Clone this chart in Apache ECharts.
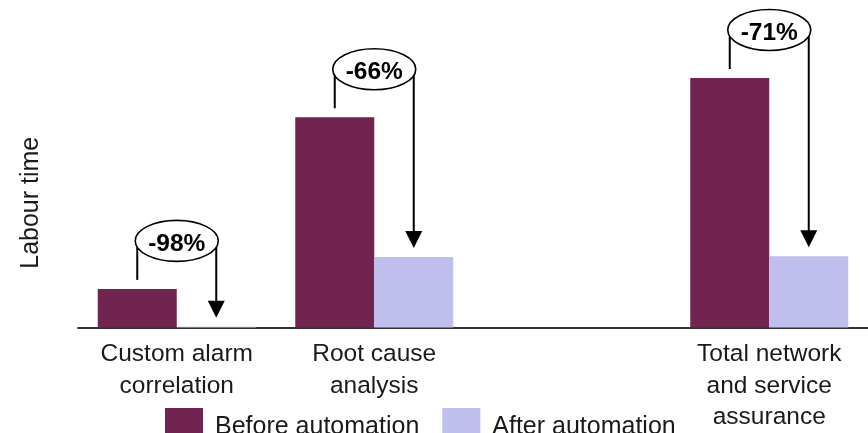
<!DOCTYPE html>
<html>
<head>
<meta charset="utf-8">
<script src="https://cdn.jsdelivr.net/npm/echarts@6/dist/echarts.min.js"></script>
<style>
html,body{margin:0;padding:0;background:#fff;}
#chart{width:868px;height:433px;}
</style>
</head>
<body>
<div id="chart"></div>
<script>
var categories = ['Custom alarm\ncorrelation', 'Root cause\nanalysis', '', 'Total network\nand service\nassurance'];
var beforeValues = [13, 70.8, null, 84];
var afterValues = [0.26, 23.7, null, 24];
var changeLabels = ['-98%', '-66%', null, '-71%'];
var seriesNames = ['Before automation', 'After automation'];
var yAxisTitle = 'Labour time';

var FONT = '"Liberation Sans", Arial, sans-serif';
var TEXT_COLOR = '#1a1a1a';

var annotationData = [];
for (var i = 0; i < categories.length; i++) {
  if (beforeValues[i] != null && afterValues[i] != null) {
    annotationData.push([i, beforeValues[i], afterValues[i], changeLabels[i]]);
  }
}

function renderAnnotation(params, api) {
  var idx = api.value(0);
  var topB = api.coord([idx, api.value(1)]);
  var topA = api.coord([idx, api.value(2)]);
  var band = api.size([1, 0])[0];
  var bw = band * 0.4;
  var L = topB[0] - bw / 2;
  var R = topB[0] + bw / 2;
  var yB = topB[1];
  var yA = topA[1];
  var cy = yB - 48;
  var cx = (L + R) / 2;
  var tip = yA - 9;
  var ah = 17, aw = 8.5;
  var label = annotationData[params.dataIndex][3];
  var stroke = { stroke: '#000', lineWidth: 2, fill: null };
  return {
    type: 'group',
    children: [
      { type: 'line', shape: { x1: L, y1: yB - 9, x2: L, y2: cy }, style: stroke },
      { type: 'line', shape: { x1: R, y1: cy, x2: R, y2: tip - ah + 1 }, style: stroke },
      { type: 'polygon', shape: { points: [[R - aw, tip - ah], [R + aw, tip - ah], [R, tip]] }, style: { fill: '#000' } },
      { type: 'ellipse', shape: { cx: cx, cy: cy, rx: (R - L) / 2 + 2, ry: 20.5 }, style: { fill: '#fff', stroke: '#000', lineWidth: 1.6 } },
      { type: 'text', x: cx, y: cy + 3, style: { text: label, fill: '#000', font: '600 24.5px ' + FONT, textAlign: 'center', textVerticalAlign: 'middle' } }
    ]
  };
}

var chart = echarts.init(document.getElementById('chart'));
chart.setOption({
  animation: false,
  backgroundColor: '#fff',
  grid: { left: 78, right: 0, top: 78, bottom: 103, containLabel: false },
  legend: {
    data: seriesNames,
    left: 165,
    top: 408,
    padding: 0,
    itemWidth: 38,
    itemHeight: 38,
    itemGap: 23,
    icon: 'rect',
    textStyle: { fontFamily: FONT, fontSize: 25, color: TEXT_COLOR, padding: [0, 0, 0, 7] }
  },
  xAxis: {
    type: 'category',
    data: categories,
    axisLine: { show: true, lineStyle: { color: '#333', width: 2 } },
    axisTick: { show: false },
    axisLabel: { interval: 0, margin: 11, fontFamily: FONT, fontSize: 24.5, lineHeight: 31.5, color: TEXT_COLOR }
  },
  yAxis: {
    type: 'value',
    min: 0,
    max: 84,
    axisLine: { show: false },
    axisTick: { show: false },
    axisLabel: { show: false },
    splitLine: { show: false },
    name: yAxisTitle,
    nameLocation: 'middle',
    nameRotate: 90,
    nameGap: 34,
    nameTextStyle: { fontFamily: FONT, fontSize: 25, color: TEXT_COLOR }
  },
  series: [
    {
      name: seriesNames[0],
      type: 'bar',
      data: beforeValues,
      barGap: '0%',
      barCategoryGap: '20%',
      itemStyle: { color: '#71244F' }
    },
    {
      name: seriesNames[1],
      type: 'bar',
      data: afterValues,
      barGap: '0%',
      barCategoryGap: '20%',
      itemStyle: { color: '#BFBEEC' }
    },
    {
      type: 'custom',
      name: 'annotations',
      data: annotationData,
      renderItem: renderAnnotation,
      clip: false,
      z: 10,
      silent: true,
      encode: { x: 0, y: 1 }
    }
  ]
});
</script>
</body>
</html>
